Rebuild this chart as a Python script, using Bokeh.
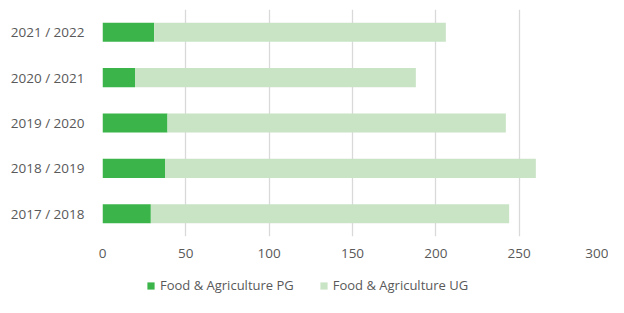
from bokeh.plotting import figure
from bokeh.layouts import column
from bokeh.models import Legend, LegendItem, FactorRange, FixedTicker, ColumnDataSource
from bokeh.embed import file_html
from bokeh.resources import INLINE

years = ["2017 / 2018", "2018 / 2019", "2019 / 2020", "2020 / 2021", "2021 / 2022"]
pg = [29, 37.5, 39, 19.5, 31]
ug = [215, 222.5, 203, 168.5, 175]
series = ["Food & Agriculture PG", "Food & Agriculture UG"]
colors = ["#3bb54a", "#c9e4c5"]
x_ticks = [0, 50, 100, 150, 200, 250, 300]

FONT = "Open Sans"
TXT = "#595959"

source = ColumnDataSource(data={"years": years, series[0]: pg, series[1]: ug})

# main chart
p = figure(y_range=FactorRange(*years), x_range=(0, 300),
           frame_width=500, frame_height=227, output_backend="svg", toolbar_location=None,
           min_border_left=102, min_border_right=6, min_border_top=9, min_border_bottom=0)

p.hbar_stack(series, y="years", height=0.42, color=colors, line_color=None, source=source)

p.outline_line_color = None
p.ygrid.grid_line_color = None
p.xgrid.grid_line_color = "#d9d9d9"
p.xgrid.grid_line_width = 1.3
p.xaxis.ticker = FixedTicker(ticks=x_ticks)

for ax in (p.xaxis, p.yaxis):
    ax.axis_line_color = None
    ax.major_tick_line_color = None
    ax.minor_tick_line_color = None
    ax.major_tick_out = 0
    ax.major_tick_in = 0
    ax.major_label_text_font = FONT
    ax.major_label_text_font_size = "13.5px"
    ax.major_label_text_color = TXT
p.xaxis.major_label_standoff = 12
p.yaxis.major_label_standoff = 18

# legend strip: hidden copies of the stacked series supply the swatches
lg = figure(y_range=FactorRange(*years), x_range=(0, 300),
            width=608, height=34, output_backend="svg", toolbar_location=None,
            x_axis_location=None, y_axis_location=None,
            min_border_left=0, min_border_right=0, min_border_top=0, min_border_bottom=0)
lg.outline_line_color = None
lg.xgrid.visible = False
lg.ygrid.visible = False
swatches = lg.hbar_stack(series, y="years", height=0.42, color=colors, line_color=None, source=source)
for r in swatches:
    r.visible = False

legend = Legend(items=[LegendItem(label=s, renderers=[r]) for s, r in zip(series, swatches)],
                orientation="horizontal", location=(44, 0))
legend.border_line_color = None
legend.background_fill_alpha = 0
legend.inactive_fill_alpha = 0
legend.click_policy = "none"
legend.padding = 0
legend.margin = 0
legend.spacing = 25
legend.glyph_width = 9
legend.glyph_height = 9
legend.label_standoff = 5
legend.label_text_font = FONT
legend.label_text_font_size = "13px"
legend.label_text_color = TXT
legend.label_height = 14
lg.add_layout(legend, "center")

layout = column(p, lg, spacing=0)
open("out.html", "w").write(file_html(layout, INLINE))
